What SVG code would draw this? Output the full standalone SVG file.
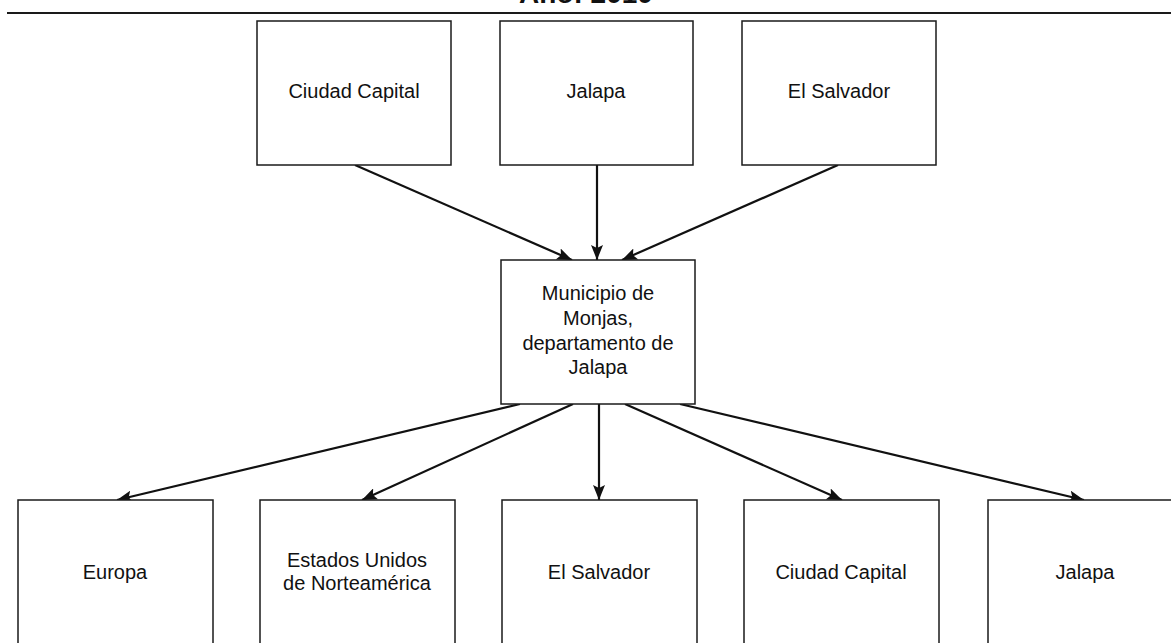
<svg xmlns="http://www.w3.org/2000/svg" width="1171" height="643" viewBox="0 0 1171 643">
  <style>
    .box { fill: #ffffff; stroke: #1a1a1a; stroke-width: 1.5; }
    .lbl { font-family: "Liberation Sans", Arial, sans-serif; font-size: 20px; fill: #111111; text-anchor: middle; }
    .title { font-family: "Liberation Sans", Arial, sans-serif; font-size: 28px; font-weight: bold; fill: #111111; text-anchor: middle; }
    .conn { stroke: #111111; stroke-width: 2.2; fill: none; marker-end: url(#arrow); }
  </style>
  <defs>
    <marker id="arrow" markerUnits="userSpaceOnUse" markerWidth="16" markerHeight="12" refX="15" refY="6" orient="auto">
      <path d="M0,0 L15,6 L0,12 L3,6 z" fill="#111111"/>
    </marker>
  </defs>
  <rect x="0" y="0" width="1171" height="643" fill="#ffffff"/>
  <g id="title">
    <text class="title" x="586" y="3">Año: 2010</text>
    <line x1="7" y1="13" x2="1171" y2="13" stroke="#1a1a1a" stroke-width="2"/>
  </g>
  <g id="connectors">
    <line class="conn" x1="355" y1="165" x2="572" y2="260"/>
    <line class="conn" x1="597" y1="165" x2="597" y2="260"/>
    <line class="conn" x1="838" y1="165" x2="622" y2="260"/>
    <line class="conn" x1="520" y1="404" x2="117" y2="500"/>
    <line class="conn" x1="573" y1="404" x2="362" y2="500"/>
    <line class="conn" x1="599" y1="404" x2="599" y2="500"/>
    <line class="conn" x1="625" y1="404" x2="842" y2="500"/>
    <line class="conn" x1="680" y1="404" x2="1084" y2="500"/>
  </g>
  <g id="n-ciudad-top">
    <rect class="box" x="257" y="21" width="194" height="144"/>
    <text class="lbl" x="354" y="98">Ciudad Capital</text>
  </g>
  <g id="n-jalapa-top">
    <rect class="box" x="500" y="21" width="193" height="144"/>
    <text class="lbl" x="596" y="98">Jalapa</text>
  </g>
  <g id="n-elsalvador-top">
    <rect class="box" x="742" y="21" width="194" height="144"/>
    <text class="lbl" x="839" y="98">El Salvador</text>
  </g>
  <g id="n-monjas">
    <rect class="box" x="501" y="260" width="194" height="144"/>
    <text class="lbl" x="598" y="300">Municipio de</text>
    <text class="lbl" x="598" y="325">Monjas,</text>
    <text class="lbl" x="598" y="350">departamento de</text>
    <text class="lbl" x="598" y="374">Jalapa</text>
  </g>
  <g id="n-europa">
    <rect class="box" x="18" y="500" width="195" height="200"/>
    <text class="lbl" x="115" y="579">Europa</text>
  </g>
  <g id="n-eeuu">
    <rect class="box" x="260" y="500" width="195" height="200"/>
    <text class="lbl" x="357" y="567">Estados Unidos</text>
    <text class="lbl" x="357" y="590">de Norteamérica</text>
  </g>
  <g id="n-elsalvador-bottom">
    <rect class="box" x="502" y="500" width="195" height="200"/>
    <text class="lbl" x="599" y="579">El Salvador</text>
  </g>
  <g id="n-ciudad-bottom">
    <rect class="box" x="744" y="500" width="195" height="200"/>
    <text class="lbl" x="841" y="579">Ciudad Capital</text>
  </g>
  <g id="n-jalapa-bottom">
    <rect class="box" x="988" y="500" width="195" height="200"/>
    <text class="lbl" x="1085" y="579">Jalapa</text>
  </g>
</svg>
